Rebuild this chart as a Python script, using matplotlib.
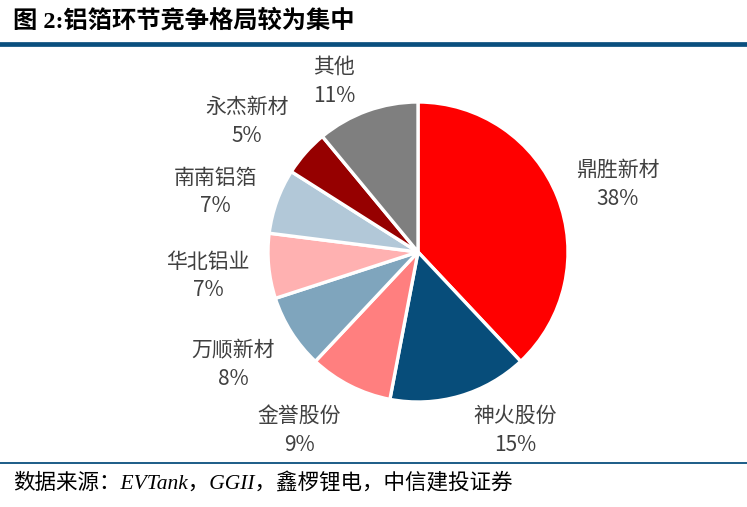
import matplotlib.pyplot as plt
from matplotlib.lines import Line2D

plt.rcParams['font.family'] = ['Noto Sans CJK SC', 'DejaVu Sans']

# data
companies = ['鼎胜新材', '神火股份', '金誉股份', '万顺新材', '华北铝业', '南南铝箔', '永杰新材', '其他']
shares = [38, 15, 9, 8, 7, 7, 5, 11]
colors = ['#FF0000', '#074D7A', '#FF7F7F', '#7FA5BD', '#FFB1B1', '#B2C8D8', '#960000', '#7F7F7F']
# label centres, in pie radius units
label_pos = [(1.33, 0.45), (0.65, -1.19), (-0.79, -1.19), (-1.23, -0.75),
             (-1.40, -0.16), (-1.35, 0.40), (-1.14, 0.87), (-0.56, 1.14)]

W, H = 747, 507
fig = plt.figure(figsize=(W / 100, H / 100), dpi=100)

# pie centre at (418, 252) px from top-left, radius 150 px
cx, cy, r = 418, 252, 150
ax = fig.add_axes([0, 0, 1, 1])
ax.pie(shares, colors=colors, startangle=90, counterclock=False,
       wedgeprops=dict(edgecolor='white', linewidth=2.4))
ax.set_aspect('auto')
ax.set_xlim(-cx / r, (W - cx) / r)
ax.set_ylim(-(H - cy) / r, cy / r)
ax.axis('off')

dy = 14.5 / r
for name, val, (x, y) in zip(companies, shares, label_pos):
    ax.text(x, y + dy, name, ha='center', va='center', fontsize=15, color='#404040')
    ax.text(x, y - dy, f'{val}%', ha='center', va='center', fontsize=15, color='#404040')

# title and rules
fig.text(13 / W, 1 - 21 / H, '图 2:铝箔环节竞争格局较为集中', fontsize=17.5, fontweight='bold',
         family=['Liberation Serif', 'Noto Sans CJK SC'],
         ha='left', va='center', color='black')
fig.add_artist(Line2D([0, 1], [1 - 44 / H, 1 - 44 / H], transform=fig.transFigure,
                      color='#0A4F7E', linewidth=3.4))
fig.add_artist(Line2D([0, 1], [1 - 463 / H, 1 - 463 / H], transform=fig.transFigure,
                      color='#0A4F7E', linewidth=1.3))
fig.text(13 / W, 1 - 484 / H, '数据来源：EVTank，GGII，鑫椤锂电，中信建投证券', fontsize=15.5,
         fontstyle='italic', family=['Liberation Serif', 'Noto Sans CJK SC'],
         ha='left', va='center', color='black')

fig.savefig('out.png', dpi=100)
